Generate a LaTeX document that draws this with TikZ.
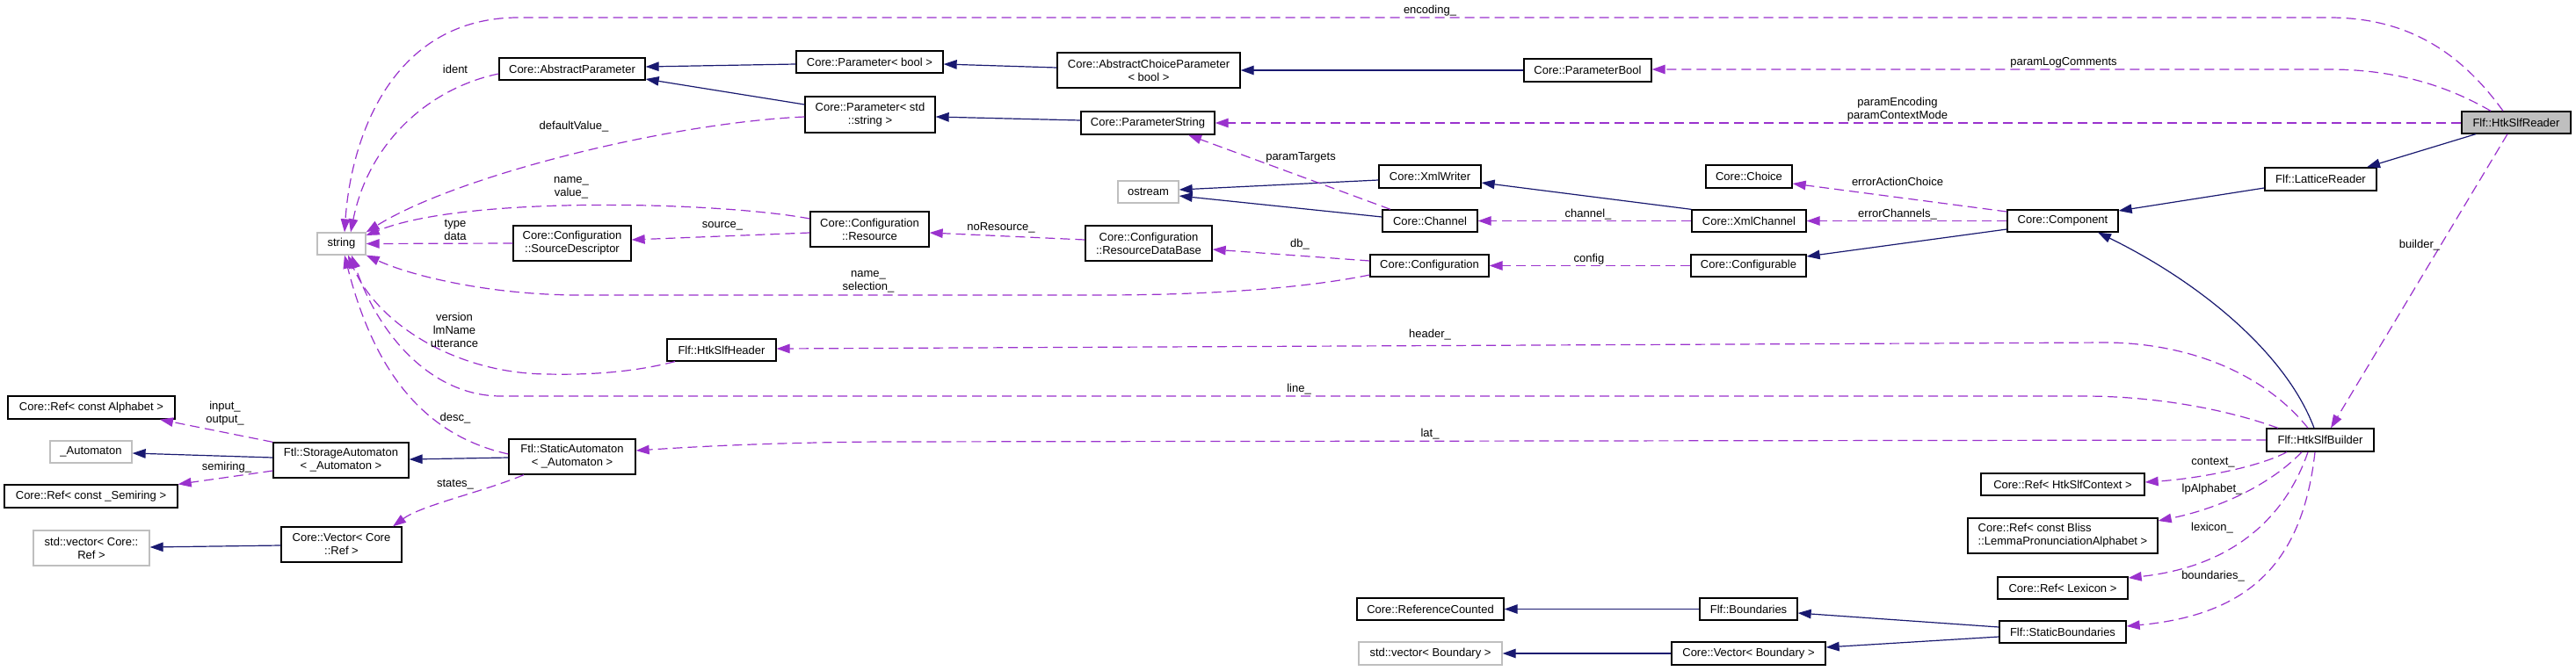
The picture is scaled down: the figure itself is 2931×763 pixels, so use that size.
\documentclass[tikz,border=0pt]{standalone}
\usepackage{fontspec}
\setmainfont{Liberation Sans}
\usetikzlibrary{arrows.meta}
\definecolor{dxpurple}{HTML}{9A32CD}
\definecolor{dxnavy}{HTML}{191970}
\definecolor{dxgray}{HTML}{BFBFBF}
\newcommand\dxfont{\fontsize{13}{15}\selectfont}
\tikzset{
  cls/.style={draw=black, line width=1.3pt, fill=white, inner sep=0pt, font=\dxfont, align=center},
  ext/.style={cls, draw=dxgray},
  inh/.style={draw=dxnavy, line width=1.2pt, -{Triangle[length=15pt,width=10.5pt]}},
  use/.style={draw=dxpurple, line width=1.2pt, dash pattern=on 11pt off 6pt, -{Triangle[length=15pt,width=10.5pt]}},
  lbl/.style={font=\dxfont, align=center, inner sep=0pt}
}
\begin{document}
\begin{tikzpicture}[x=1pt,y=-1pt]
\fill[white] (0,0) rectangle (2931,763);
\useasboundingbox (0,0) rectangle (2931,763);

% nodes
\node[cls,fill=dxgray,minimum width=124pt,minimum height=25pt] (reader) at (2863,139.5) {Flf::HtkSlfReader};
\node[cls,minimum width=145pt,minimum height=26pt] (pbool) at (1806.5,80) {Core::ParameterBool};
\node[cls,minimum width=208pt,minimum height=40pt] (acp) at (1307,80) {Core::AbstractChoiceParameter\\< bool >};
\node[cls,minimum width=167pt,minimum height=25pt] (parbool) at (989.5,70.5) {Core::Parameter< bool >};
\node[cls,minimum width=166pt,minimum height=25pt] (absp) at (651,78.5) {Core::AbstractParameter};
\node[cls,minimum width=148pt,minimum height=41pt] (parstr) at (990,130.5) {Core::Parameter< std\\::string >};
\node[cls,minimum width=152pt,minimum height=26pt] (pstr) at (1306,140) {Core::ParameterString};
\node[ext,minimum width=55pt,minimum height=25pt] (string) at (388.5,277.5) {string};
\node[cls,minimum width=134pt,minimum height=40pt] (srcd) at (651,277) {Core::Configuration\\::SourceDescriptor};
\node[cls,minimum width=135pt,minimum height=40pt] (res) at (989.5,261) {Core::Configuration\\::Resource};
\node[ext,minimum width=69pt,minimum height=25pt] (ostream) at (1306.5,218.5) {ostream};
\node[cls,minimum width=144pt,minimum height=40pt] (rdb) at (1307,277) {Core::Configuration\\::ResourceDataBase};
\node[cls,minimum width=116pt,minimum height=26pt] (xmlw) at (1627,201) {Core::XmlWriter};
\node[cls,minimum width=108pt,minimum height=25pt] (chan) at (1627,251.5) {Core::Channel};
\node[cls,minimum width=135pt,minimum height=25pt] (conf) at (1626.5,302.5) {Core::Configuration};
\node[cls,minimum width=98pt,minimum height=26pt] (choice) at (1990,201) {Core::Choice};
\node[cls,minimum width=130pt,minimum height=25pt] (xmlc) at (1990,251.5) {Core::XmlChannel};
\node[cls,minimum width=131pt,minimum height=25pt] (cfgb) at (1989.5,302.5) {Core::Configurable};
\node[cls,minimum width=126pt,minimum height=25pt] (comp) at (2347,251.5) {Core::Component};
\node[cls,minimum width=127pt,minimum height=26pt] (latr) at (2640.5,204) {Flf::LatticeReader};
\node[cls,minimum width=124pt,minimum height=25pt] (hdr) at (821,398.5) {Flf::HtkSlfHeader};
\node[cls,minimum width=122pt,minimum height=26pt] (bld) at (2640,501) {Flf::HtkSlfBuilder};
\node[cls,minimum width=144pt,minimum height=40pt] (stat) at (651,520) {Ftl::StaticAutomaton\\< \_Automaton >};
\node[cls,minimum width=154pt,minimum height=40pt] (stor) at (388,524) {Ftl::StorageAutomaton\\< \_Automaton >};
\node[cls,minimum width=190pt,minimum height=26pt] (refa) at (104,464) {Core::Ref< const Alphabet >};
\node[ext,minimum width=93pt,minimum height=25pt] (autom) at (103.5,514.5) {\_Automaton};
\node[cls,minimum width=197pt,minimum height=26pt] (refs) at (103.5,565) {Core::Ref< const \_Semiring >};
\node[ext,minimum width=132pt,minimum height=40pt] (svec) at (104,624) {std::vector< Core::\\Ref >};
\node[cls,minimum width=137pt,minimum height=40pt] (cvec) at (388.5,620) {Core::Vector< Core\\::Ref >};
\node[cls,minimum width=186pt,minimum height=25pt] (rctx) at (2347,551.5) {Core::Ref< HtkSlfContext >};
\node[cls,align=left,minimum width=216pt,minimum height=40pt] (rlp) at (2347,610) {Core::Ref< const Bliss\\::LemmaPronunciationAlphabet >};
\node[cls,minimum width=148pt,minimum height=25pt] (rlex) at (2347,669.5) {Core::Ref< Lexicon >};
\node[cls,minimum width=144pt,minimum height=25pt] (sbnd) at (2347,719.5) {Flf::StaticBoundaries};
\node[cls,minimum width=167pt,minimum height=25pt] (rc) at (1627.5,693.5) {Core::ReferenceCounted};
\node[cls,minimum width=111pt,minimum height=25pt] (bnd) at (1989.5,693.5) {Flf::Boundaries};
\node[ext,minimum width=163pt,minimum height=26pt] (svb) at (1627.5,744) {std::vector< Boundary >};
\node[cls,minimum width=175pt,minimum height=26pt] (cvb) at (1989.5,744) {Core::Vector< Boundary >};

% inheritance
\draw[inh] (parbool.west |- 0,73) -- (absp.east |- 0,76);
\draw[inh] (parstr.west |- 0,119) -- (absp.east |- 0,90);
\draw[inh] (acp.west |- 0,77) -- (parbool.east |- 0,73);
\draw[inh] (pbool.west) -- (acp.east |- 0,80);
\draw[inh] (pstr.west |- 0,137) -- (parstr.east |- 0,133);
\draw[inh] (xmlw.west |- 0,205) -- (ostream.east |- 0,216);
\draw[inh] (chan.west |- 0,247) -- (ostream.east |- 0,223);
\draw[inh] (xmlc.north west) -- (xmlw.east |- 0,208);
\draw[inh] (comp.west |- 0,261) -- (cfgb.east |- 0,292);
\draw[inh] (latr.west |- 0,214) -- (comp.east |- 0,240);
\draw[inh] (reader.south -| 2817,0) -- (latr.north -| 2693,0);
\draw[inh] (bld.north -| 2633,0) .. controls (2600,400) and (2500,320) .. (comp.south -| 2387,0);
\draw[inh] (stor.west |- 0,521) -- (autom.east |- 0,516);
\draw[inh] (stat.west |- 0,521) -- (stor.east |- 0,523);
\draw[inh] (cvec.west |- 0,621) -- (svec.east |- 0,623);
\draw[inh] (bnd.west) -- (rc.east);
\draw[inh] (cvb.west) -- (svb.east);
\draw[inh] (sbnd.west |- 0,714) -- (bnd.east |- 0,698);
\draw[inh] (sbnd.west |- 0,725) -- (cvb.east |- 0,737);

% usage
\draw[use] (reader.north -| 2848,0) .. controls (2800,60) and (2740,20) .. (2650,20) -- (590,20) .. controls (450,20) and (400,150) .. (string.north -| 392,0);
\draw[use] (reader.north -| 2834,0) .. controls (2780,95) and (2720,79) .. (2650,79) -- (pbool.east |- 0,79);
\draw[use] (reader.west |- 0,140) -- (pstr.east |- 0,140);
\draw[use] (reader.south -| 2853,0) -- (bld.north -| 2652,0);
\draw[use] (absp.west |- 0,84) .. controls (490,100) and (420,160) .. (string.north -| 399,0);
\draw[use] (parstr.west |- 0,133) .. controls (760,140) and (520,200) .. (string.north east);
\draw[use] (res.west |- 0,249) .. controls (820,230) and (530,222) .. (string.east |- 0,268);
\draw[use] (srcd.west) -- (string.east);
\draw[use] (res.west |- 0,265) -- (srcd.east |- 0,273);
\draw[use] (rdb.west |- 0,273) -- (res.east |- 0,265);
\draw[use] (conf.west |- 0,297) -- (rdb.east |- 0,284);
\draw[use] (conf.west |- 0,313) .. controls (1500,325) and (1400,336) .. (1250,336) -- (660,336) .. controls (560,336) and (470,315) .. (string.south east);
\draw[use] (cfgb.west) -- (conf.east);
\draw[use] (chan.north -| 1582,0) -- (pstr.south -| 1352,0);
\draw[use] (xmlc.west) -- (chan.east);
\draw[use] (comp.west) -- (xmlc.east);
\draw[use] (comp.west |- 0,241) -- (choice.east |- 0,209);
\draw[use] (bld.north -| 2626,0) .. controls (2580,430) and (2500,392) .. (2400,390) -- (hdr.east |- 0,397);
\draw[use] (bld.north -| 2592,0) .. controls (2530,465) and (2450,451) .. (2370,451) -- (570,451) .. controls (490,451) and (430,380) .. (string.south -| 400,0);
\draw[use] (bld.west) -- (1000,503) .. controls (880,504) and (800,508) .. (stat.east |- 0,513);
\draw[use] (hdr.south -| 768,0) .. controls (720,424) and (670,427) .. (622,426) .. controls (520,425) and (430,370) .. (string.south -| 396,0);
\draw[use] (stat.west |- 0,517) .. controls (480,495) and (425,420) .. (string.south -| 392,0);
\draw[use] (stat.south -| 596,0) .. controls (550,560) and (480,575) .. (cvec.north -| 447,0);
\draw[use] (stor.north west) -- (refa.south -| 182,0);
\draw[use] (stor.west |- 0,536) -- (refs.north east);
\draw[use] (bld.south -| 2602,0) .. controls (2570,532) and (2500,545) .. (rctx.east |- 0,549);
\draw[use] (bld.south -| 2619,0) .. controls (2580,555) and (2520,580) .. (rlp.east |- 0,593);
\draw[use] (bld.south -| 2626,0) .. controls (2600,590) and (2540,645) .. (rlex.east |- 0,658);
\draw[use] (bld.south -| 2634,0) .. controls (2620,640) and (2560,700) .. (sbnd.east |- 0,713);

% labels
\node[lbl] (l1) at (1627,12) {encoding\_};
\node[lbl] (l2) at (2348,71) {paramLogComments};
\node[lbl] (l3) at (2159,124.5) {paramEncoding\\paramContextMode};
\node[lbl] (l4) at (2753,279) {builder\_};
\node[lbl] (l5) at (518,79) {ident};
\node[lbl] (l6) at (653,144) {defaultValue\_};
\node[lbl] (l7) at (650,214) {name\_\\value\_};
\node[lbl] (l8) at (518,262) {type\\data};
\node[lbl] (l9) at (822,257) {source\_};
\node[lbl] (l10) at (1139,259) {noResource\_};
\node[lbl] (l11) at (1479,278) {db\_};
\node[lbl] (l12) at (988,320.5) {name\_\\selection\_};
\node[lbl] (l13) at (1808,295) {config};
\node[lbl] (l14) at (1480,179) {paramTargets};
\node[lbl] (l15) at (1807,244) {channel\_};
\node[lbl] (l16) at (2159,244) {errorChannels\_};
\node[lbl] (l17) at (2159,207) {errorActionChoice};
\node[lbl] (l18) at (1627,381) {header\_};
\node[lbl] (l19) at (1478,443) {line\_};
\node[lbl] (l20) at (1627,494) {lat\_};
\node[lbl] (l21) at (517,376) {version\\lmName\\utterance};
\node[lbl] (l22) at (518,476) {desc\_};
\node[lbl] (l23) at (518,552) {states\_};
\node[lbl] (l24) at (256,471) {input\_\\output\_};
\node[lbl] (l25) at (258,532) {semiring\_};
\node[lbl] (l26) at (2518,527) {context\_};
\node[lbl] (l27) at (2517,557) {lpAlphabet\_};
\node[lbl] (l28) at (2517,601) {lexicon\_};
\node[lbl] (l29) at (2518,656) {boundaries\_};
\end{tikzpicture}
\end{document}
